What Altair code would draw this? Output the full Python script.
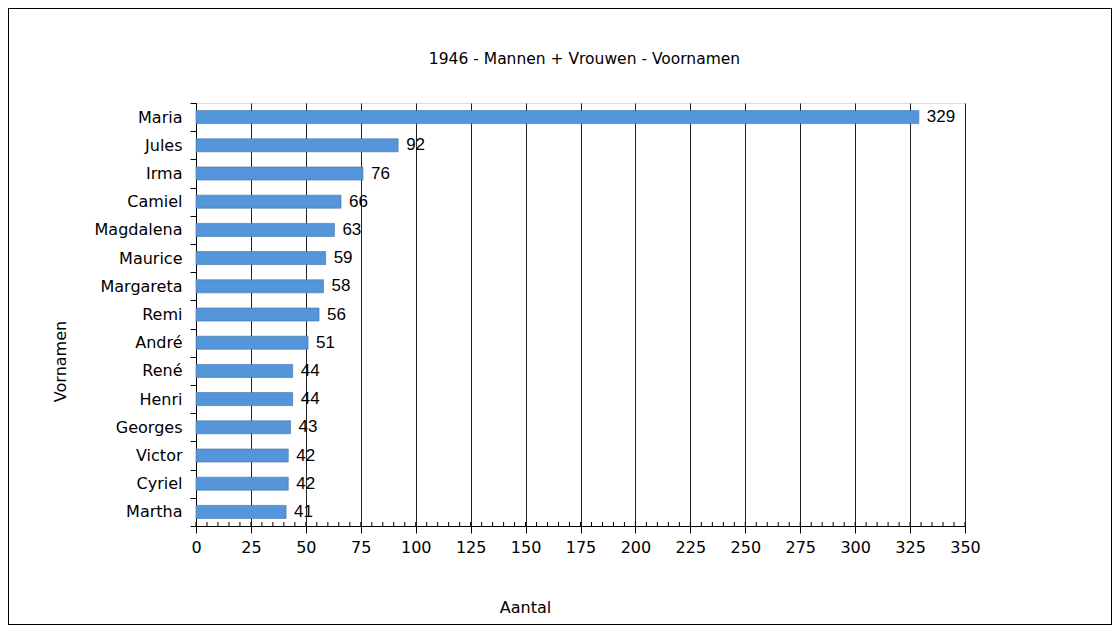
import altair as alt
import pandas as pd

names = ["Maria", "Jules", "Irma", "Camiel", "Magdalena", "Maurice", "Margareta",
         "Remi", "André", "René", "Henri", "Georges", "Victor", "Cyriel", "Martha"]
counts = [329, 92, 76, 66, 63, 59, 58, 56, 51, 44, 44, 43, 42, 42, 41]
x_ticks = list(range(0, 351, 25))
minor_ticks = list(range(0, 351, 5))

df = pd.DataFrame({"naam": names, "aantal": counts})
minor_df = pd.DataFrame({"v": minor_ticks})

W, H = 769, 423
FONT = "DejaVu Sans"
FS = 16

y_enc = alt.Y("naam:N", sort=names,
              scale=alt.Scale(paddingInner=0, paddingOuter=0),
              axis=alt.Axis(title="Vornamen", tickBand="extent", tickSize=6,
                            tickColor="#000", domainColor="#000",
                            labelFont=FONT, labelFontSize=FS, labelColor="#000",
                            labelPadding=8, titleFont=FONT, titleFontSize=FS,
                            titleFontWeight="normal", titleColor="#000",
                            titleX=-136, titleY=258, titleAngle=-90,
                            titleAlign="center", titleBaseline="middle"))

x_scale = alt.Scale(domain=[0, 350], nice=False)
x_enc = alt.X("aantal:Q", scale=x_scale,
              axis=alt.Axis(title="Aantal", values=x_ticks, tickSize=7,
                            tickColor="#000", domainColor="#000", labelFlush=False,
                            grid=True, gridColor="#222", gridWidth=1, gridOpacity=1,
                            labelFont=FONT, labelFontSize=FS, labelColor="#000",
                            labelPadding=6, titleFont=FONT, titleFontSize=FS,
                            titleFontWeight="normal", titleColor="#000",
                            titleX=329, titleY=86, titleAlign="center",
                            titleBaseline="alphabetic"))

bars = alt.Chart(df).mark_bar(size=13, color="#5596DA", stroke="#3C70A8",
                              strokeWidth=0.6).encode(x=x_enc, y=y_enc)

labels = alt.Chart(df).mark_text(align="left", baseline="middle", dx=8,
                                 font="Liberation Sans", fontSize=17,
                                 color="#000").encode(
    x=alt.X("aantal:Q", scale=x_scale),
    y=alt.Y("naam:N", sort=names),
    text="aantal:Q")

minor = alt.Chart(minor_df).mark_rule(color="#000", strokeWidth=1).encode(
    x=alt.X("v:Q", scale=x_scale),
    y=alt.value(H - 4), y2=alt.value(H))

frame = alt.Chart(df).mark_rect(fill=None, stroke="#000", strokeWidth=1).encode(
    x=alt.value(-187.5), x2=alt.value(915.5), y=alt.value(-94.5), y2=alt.value(521.5))

chart = alt.layer(bars, labels, minor, frame).properties(
    width=W, height=H,
    autosize=alt.AutoSizeParams(type="none"),
    padding={"left": 188, "top": 95, "right": 147, "bottom": 99},
    title=alt.TitleParams("1946 - Mannen + Vrouwen - Voornamen", anchor="middle",
                          frame="group", font=FONT, fontSize=15.5,
                          fontWeight="normal", color="#000", offset=-71,
                          baseline="alphabetic", dx=4),
).configure_view(fill="#C0C0C0", stroke="#808080").configure(background="#FFFFFF")

chart.save("out.html", embed_options={"renderer": "svg", "actions": False})
